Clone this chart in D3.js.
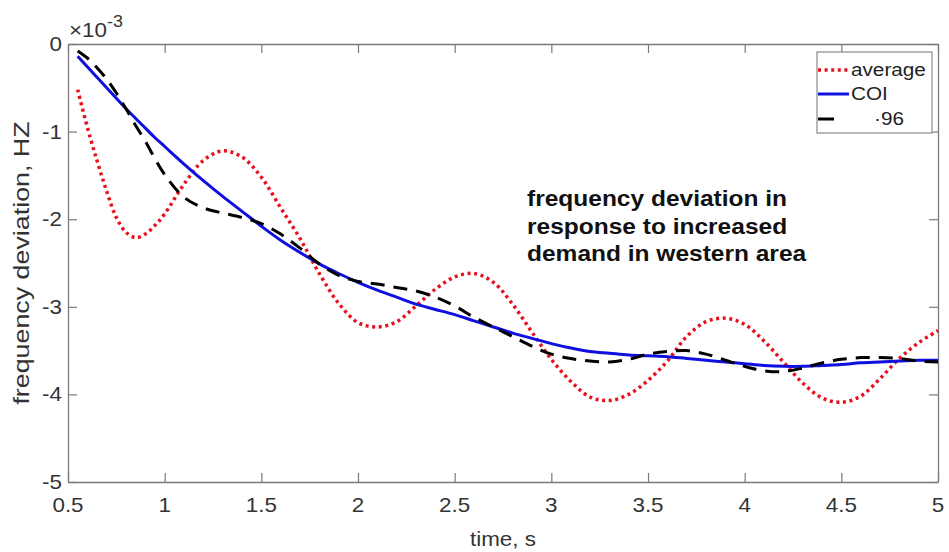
<!DOCTYPE html>
<html>
<head>
<meta charset="utf-8">
<script src="https://cdn.jsdelivr.net/npm/d3@7"></script>
<style>
  body { margin: 0; background: #fff; }
  text { font-family: "Liberation Sans", Arial, sans-serif; }
</style>
</head>
<body>
<div id="chart"></div>
<script>
  const time = [0.55, 0.6, 0.65, 0.7, 0.75, 0.8, 0.85, 0.9, 0.95, 1.0,
    1.1, 1.2, 1.3, 1.4, 1.5, 1.6, 1.7, 1.8, 1.9, 2.0,
    2.1, 2.2, 2.3, 2.4, 2.5, 2.6, 2.7, 2.8, 2.9, 3.0,
    3.1, 3.2, 3.3, 3.4, 3.5, 3.6, 3.7, 3.8, 3.9, 4.0,
    4.1, 4.2, 4.3, 4.4, 4.5, 4.6, 4.7, 4.8, 4.9, 5.0];

  // values in 1e-3 Hz
  const average = [-0.52, -0.95, -1.33, -1.68, -1.98, -2.15, -2.21, -2.17, -2.07, -1.94,
    -1.60, -1.33, -1.22, -1.29, -1.52, -1.87, -2.22, -2.62, -2.96, -3.18,
    -3.23, -3.17, -2.99, -2.80, -2.66, -2.62, -2.72, -2.97, -3.29, -3.60,
    -3.85, -4.03, -4.07, -4.00, -3.84, -3.62, -3.34, -3.17, -3.13, -3.20,
    -3.39, -3.63, -3.87, -4.04, -4.09, -4.02, -3.82, -3.59, -3.41, -3.27];

  const coi = [-0.14, -0.26, -0.38, -0.50, -0.62, -0.74, -0.85, -0.96, -1.07, -1.17,
    -1.37, -1.56, -1.74, -1.91, -2.08, -2.24, -2.38, -2.51, -2.62, -2.72,
    -2.81, -2.89, -2.97, -3.03, -3.09, -3.16, -3.23, -3.30, -3.36, -3.42,
    -3.47, -3.51, -3.53, -3.55, -3.56, -3.57, -3.59, -3.61, -3.63, -3.65,
    -3.67, -3.68, -3.68, -3.67, -3.66, -3.64, -3.63, -3.62, -3.61, -3.61];

  const s96 = [-0.08, -0.16, -0.27, -0.40, -0.56, -0.74, -0.93, -1.11, -1.31, -1.49,
    -1.75, -1.87, -1.93, -1.98, -2.05, -2.17, -2.33, -2.51, -2.64, -2.71,
    -2.74, -2.78, -2.82, -2.89, -2.99, -3.12, -3.23, -3.34, -3.45, -3.54,
    -3.59, -3.62, -3.63, -3.60, -3.54, -3.51, -3.50, -3.54, -3.61, -3.68,
    -3.73, -3.74, -3.70, -3.64, -3.60, -3.58, -3.58, -3.59, -3.62, -3.63];

  const seriesNames = ['average', 'COI', '·96'];
  const xTicks = [0.5, 1, 1.5, 2, 2.5, 3, 3.5, 4, 4.5, 5];
  const yTicks = [0, -1, -2, -3, -4, -5];
  const noteLines = ['frequency deviation in', 'response to increased', 'demand in western area'];

  const w = 949;
  const h = 552;
  const m = {left: 68, top: 44, right: 11, bottom: 70};
  const sx = 1.12; // text in the picture is a bit wider than tall

  const x = d3.scaleLinear().domain([0.5, 5]).range([m.left, w - m.right]);
  const y = d3.scaleLinear().domain([-5, 0]).range([h - m.bottom, m.top]);

  const axisColor = '#7a7a7a';
  const labelColor = '#333';

  const svg = d3.select('#chart').append('svg')
    .attr('width', w)
    .attr('height', h);

  function stretchText(g, px, py, k) {
    return g.append('text').attr('transform', `translate(${px},${py}) scale(${k || sx},1)`);
  }

  // axes with inward ticks on all four sides
  const tickLen = 9;
  const axes = svg.append('g');

  axes.append('g')
    .attr('transform', `translate(0,${y(-5)})`)
    .call(d3.axisBottom(x).tickValues(xTicks).tickSizeInner(-tickLen).tickSizeOuter(0).tickFormat(''));
  axes.append('g')
    .attr('transform', `translate(0,${y(0)})`)
    .call(d3.axisTop(x).tickValues(xTicks).tickSizeInner(-tickLen).tickSizeOuter(0).tickFormat(''));
  axes.append('g')
    .attr('transform', `translate(${x(0.5)},0)`)
    .call(d3.axisLeft(y).tickValues(yTicks).tickSizeInner(-tickLen).tickSizeOuter(0).tickFormat(''));
  axes.append('g')
    .attr('transform', `translate(${x(5)},0)`)
    .call(d3.axisRight(y).tickValues(yTicks).tickSizeInner(-tickLen).tickSizeOuter(0).tickFormat(''));

  axes.selectAll('path.domain').attr('stroke', axisColor).attr('stroke-width', 1.3);
  axes.selectAll('.tick line').attr('stroke', axisColor).attr('stroke-width', 1.2);

  // tick labels
  const tickLabels = svg.append('g')
    .style('font-size', '20px')
    .attr('fill', labelColor);

  xTicks.forEach(t => {
    stretchText(tickLabels, x(t), y(-5) + 30)
      .attr('text-anchor', 'middle')
      .text(t);
  });
  yTicks.forEach(t => {
    stretchText(tickLabels, x(0.5) - 6, y(t) + 7)
      .attr('text-anchor', 'end')
      .text(t === 0 ? '0' : '-' + Math.abs(t));
  });

  // exponent
  const expo = stretchText(svg, x(0.5) + 1, 37)
    .style('font-size', '20px')
    .attr('fill', labelColor);
  expo.append('tspan').text('×10');
  expo.append('tspan').attr('dy', -10).style('font-size', '16px').text('-3');

  // axis titles
  stretchText(svg, (x(0.5) + x(5)) / 2, h - 6)
    .attr('text-anchor', 'middle')
    .style('font-size', '20px')
    .attr('fill', labelColor)
    .text('time, s');

  svg.append('text')
    .attr('transform', `translate(29,${(y(0) + y(-5)) / 2}) rotate(-90) scale(1.22,1.02)`)
    .attr('text-anchor', 'middle')
    .style('font-size', '22px')
    .attr('fill', labelColor)
    .text('frequency deviation, HZ');

  // lines
  const lineGen = d3.line()
    .x(d => x(d[0]))
    .y(d => y(d[1]))
    .curve(d3.curveCatmullRom.alpha(0.5));

  const plot = svg.append('g');

  plot.append('path')
    .attr('d', lineGen(time.map((t, i) => [t, average[i]])))
    .attr('fill', 'none')
    .attr('stroke', '#e8101c')
    .attr('stroke-width', 3.5)
    .attr('stroke-dasharray', '3,3.6');

  plot.append('path')
    .attr('d', lineGen(time.map((t, i) => [t, coi[i]])))
    .attr('fill', 'none')
    .attr('stroke', '#0f0fe0')
    .attr('stroke-width', 3);

  plot.append('path')
    .attr('d', lineGen(time.map((t, i) => [t, s96[i]])))
    .attr('fill', 'none')
    .attr('stroke', '#000')
    .attr('stroke-width', 3)
    .attr('stroke-dasharray', '14,9');

  // annotation
  const note = svg.append('g')
    .style('font-size', '21.5px')
    .style('font-weight', 'bold')
    .attr('fill', '#111');
  noteLines.forEach((s, i) => {
    stretchText(note, 527, 206 + i * 27.5, 1.14).text(s);
  });

  // legend
  const legend = svg.append('g');
  legend.append('rect')
    .attr('x', 817)
    .attr('y', 52)
    .attr('width', 115)
    .attr('height', 81)
    .attr('fill', '#fff')
    .attr('stroke', '#8a8a8a')
    .attr('stroke-width', 1.2);

  const legendStyles = [
    {color: '#e8101c', width: 3.5, dash: '3,3.6'},
    {color: '#0f0fe0', width: 3, dash: null},
    {color: '#000', width: 3, dash: '16,30'}
  ];
  const legendY = [70, 94, 119];
  const legendTextX = [851, 851, 874];

  seriesNames.forEach((name, i) => {
    legend.append('line')
      .attr('x1', 818)
      .attr('x2', 849)
      .attr('y1', legendY[i])
      .attr('y2', legendY[i])
      .attr('stroke', legendStyles[i].color)
      .attr('stroke-width', legendStyles[i].width)
      .attr('stroke-dasharray', legendStyles[i].dash);
    stretchText(legend, legendTextX[i], legendY[i] + 6)
      .style('font-size', '18.5px')
      .attr('fill', '#222')
      .text(name);
  });
</script>
</body>
</html>
